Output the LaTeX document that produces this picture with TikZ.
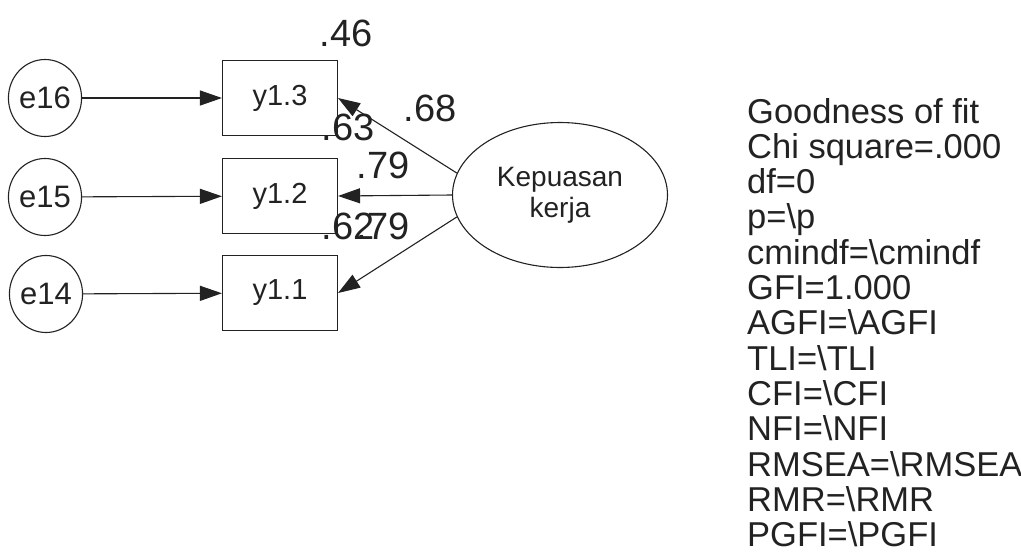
\documentclass[tikz,border=0pt]{standalone}
\usepackage{fontspec}
\setmainfont{Liberation Sans}
\usetikzlibrary{arrows.meta,shapes.geometric}
\definecolor{ink}{HTML}{222222}
\tikzset{
  x=1pt,y=-1pt,
  every node/.style={text=ink},
  errnode/.style={ellipse,draw=ink,line width=1.1pt,minimum width=64pt,minimum height=77pt,inner sep=0pt,font=\fontsize{31}{33}\selectfont},
  obsbox/.style={rectangle,draw=ink,line width=1.1pt,minimum width=115pt,minimum height=75pt,inner sep=0pt,font=\fontsize{29}{31}\selectfont},
  latent/.style={ellipse,draw=ink,line width=1.1pt,minimum width=215pt,minimum height=145pt,inner sep=0pt,align=center,font=\fontsize{28}{31}\selectfont},
  coef/.style={inner sep=0pt,font=\fontsize{38}{40}\selectfont},
  fitline/.style={anchor=base west,inner sep=0pt,font=\fontsize{34.5}{36}\selectfont},
  arr/.style={draw=ink,line width=1.1pt,-{Triangle[length=22pt,width=15pt]}}
}
\begin{document}
\begin{tikzpicture}
\useasboundingbox[fill=white] (0,0) rectangle (1021,555);
% error terms
\node[errnode] (e16) at (45,98) {e16};
\node[errnode] (e15) at (45,197) {e15};
\node[errnode] (e14) at (46,294) {e14};
% observed
\node[obsbox] (y13) at (280,98) {y1.3};
\node[obsbox] (y12) at (280,196) {y1.2};
\node[obsbox] (y11) at (280,293) {y1.1};
% latent
\node[latent] (K) at (560,195) {Kepuasan\\kerja};
% arrows
\draw[arr] (e16) -- (y13);
\draw[arr] (e15) -- (y12);
\draw[arr] (e14) -- (y11);
\draw[arr] (K.168) -- (y13.east);
\draw[arr] (K.180) -- (y12.east);
\draw[arr] (K.192) -- (y11.east);
% coefficients
\node[coef] (c46) at (346,33) {.46};
\node[coef] (c68) at (430,108) {.68};
\node[coef] (c63) at (348,127) {.63};
\node[coef] (c79a) at (383,165) {.79};
\node[coef] (c62) at (348,226) {.62};
\node[coef] (c79b) at (383,226) {.79};
% fit text
\node[fitline] (f1) at (747,123) {Goodness of fit};
\node[fitline] (f2) at (747,158.3) {Chi square=.000};
\node[fitline] (f3) at (747,193.6) {df=0};
\node[fitline] (f4) at (747,228.9) {p=\textbackslash p};
\node[fitline] (f5) at (747,264.2) {cmindf=\textbackslash cmindf};
\node[fitline] (f6) at (747,299.5) {GFI=1.000};
\node[fitline] (f7) at (747,334.8) {AGFI=\textbackslash AGFI};
\node[fitline] (f8) at (747,370.1) {TLI=\textbackslash TLI};
\node[fitline] (f9) at (747,405.4) {CFI=\textbackslash CFI};
\node[fitline] (f10) at (747,440.7) {NFI=\textbackslash NFI};
\node[fitline] (f11) at (747,476.0) {RMSEA=\textbackslash RMSEA};
\node[fitline] (f12) at (747,511.3) {RMR=\textbackslash RMR};
\node[fitline] (f13) at (747,546.6) {PGFI=\textbackslash PGFI};
\end{tikzpicture}
\end{document}
